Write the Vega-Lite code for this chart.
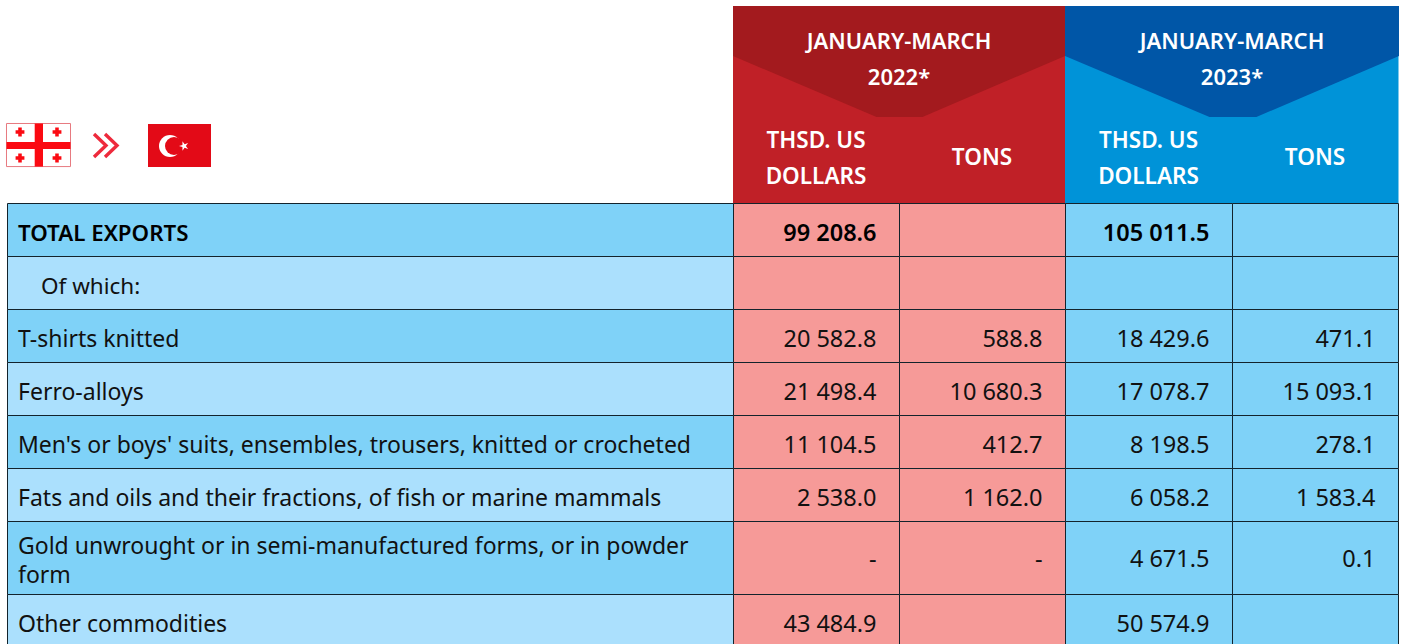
{"$schema":"https://vega.github.io/schema/vega-lite/v6.json","autosize":{"type":"fit","contains":"padding"},"width":1402,"height":644,"padding":0,"background":"white","config":{"view":{"stroke":null},"axis":{"disable":true},"legend":{"disable":true},"text":{"font":"Noto Sans"}},
"datasets":{
"cells":[
{"r":0,"r2":1,"c":0,"c2":1,"tone":"dark"},{"r":0,"r2":1,"c":1,"c2":2,"tone":"y22"},{"r":0,"r2":1,"c":2,"c2":3,"tone":"y22"},{"r":0,"r2":1,"c":3,"c2":4,"tone":"dark"},{"r":0,"r2":1,"c":4,"c2":5,"tone":"dark"},
{"r":1,"r2":2,"c":0,"c2":1,"tone":"light"},{"r":1,"r2":2,"c":1,"c2":2,"tone":"y22"},{"r":1,"r2":2,"c":2,"c2":3,"tone":"y22"},{"r":1,"r2":2,"c":3,"c2":4,"tone":"dark"},{"r":1,"r2":2,"c":4,"c2":5,"tone":"dark"},
{"r":2,"r2":3,"c":0,"c2":1,"tone":"dark"},{"r":2,"r2":3,"c":1,"c2":2,"tone":"y22"},{"r":2,"r2":3,"c":2,"c2":3,"tone":"y22"},{"r":2,"r2":3,"c":3,"c2":4,"tone":"dark"},{"r":2,"r2":3,"c":4,"c2":5,"tone":"dark"},
{"r":3,"r2":4,"c":0,"c2":1,"tone":"light"},{"r":3,"r2":4,"c":1,"c2":2,"tone":"y22"},{"r":3,"r2":4,"c":2,"c2":3,"tone":"y22"},{"r":3,"r2":4,"c":3,"c2":4,"tone":"dark"},{"r":3,"r2":4,"c":4,"c2":5,"tone":"dark"},
{"r":4,"r2":5,"c":0,"c2":1,"tone":"dark"},{"r":4,"r2":5,"c":1,"c2":2,"tone":"y22"},{"r":4,"r2":5,"c":2,"c2":3,"tone":"y22"},{"r":4,"r2":5,"c":3,"c2":4,"tone":"dark"},{"r":4,"r2":5,"c":4,"c2":5,"tone":"dark"},
{"r":5,"r2":6,"c":0,"c2":1,"tone":"light"},{"r":5,"r2":6,"c":1,"c2":2,"tone":"y22"},{"r":5,"r2":6,"c":2,"c2":3,"tone":"y22"},{"r":5,"r2":6,"c":3,"c2":4,"tone":"dark"},{"r":5,"r2":6,"c":4,"c2":5,"tone":"dark"},
{"r":6,"r2":7,"c":0,"c2":1,"tone":"dark"},{"r":6,"r2":7,"c":1,"c2":2,"tone":"y22"},{"r":6,"r2":7,"c":2,"c2":3,"tone":"y22"},{"r":6,"r2":7,"c":3,"c2":4,"tone":"dark"},{"r":6,"r2":7,"c":4,"c2":5,"tone":"dark"},
{"r":7,"r2":8,"c":0,"c2":1,"tone":"light"},{"r":7,"r2":8,"c":1,"c2":2,"tone":"y22"},{"r":7,"r2":8,"c":2,"c2":3,"tone":"y22"},{"r":7,"r2":8,"c":3,"c2":4,"tone":"dark"},{"r":7,"r2":8,"c":4,"c2":5,"tone":"dark"}],
"labels":[{"mid":0.5,"c":0,"t":"TOTAL EXPORTS","kind":"bold"},{"mid":1.5,"c":0,"t":"Of which:","kind":"indent"},{"mid":2.5,"c":0,"t":"T-shirts knitted","kind":"plain"},{"mid":3.5,"c":0,"t":"Ferro-alloys","kind":"plain"},{"mid":4.5,"c":0,"t":"Men's or boys' suits, ensembles, trousers, knitted or crocheted","kind":"plain"},{"mid":5.5,"c":0,"t":"Fats and oils and their fractions, of fish or marine mammals","kind":"plain"},{"mid":6.5,"c":0,"t":"Gold unwrought or in semi-manufactured forms, or in powder\nform","kind":"two"},{"mid":7.5,"c":0,"t":"Other commodities","kind":"plain"}],
"figures":[
{"mid":0.5,"c":2,"v":"99 208.6","kind":"bold"},{"mid":0.5,"c":4,"v":"105 011.5","kind":"bold"},
{"mid":2.5,"c":2,"v":"20 582.8","kind":"plain"},{"mid":2.5,"c":3,"v":"588.8","kind":"plain"},{"mid":2.5,"c":4,"v":"18 429.6","kind":"plain"},{"mid":2.5,"c":5,"v":"471.1","kind":"plain"},
{"mid":3.5,"c":2,"v":"21 498.4","kind":"plain"},{"mid":3.5,"c":3,"v":"10 680.3","kind":"plain"},{"mid":3.5,"c":4,"v":"17 078.7","kind":"plain"},{"mid":3.5,"c":5,"v":"15 093.1","kind":"plain"},
{"mid":4.5,"c":2,"v":"11 104.5","kind":"plain"},{"mid":4.5,"c":3,"v":"412.7","kind":"plain"},{"mid":4.5,"c":4,"v":"8 198.5","kind":"plain"},{"mid":4.5,"c":5,"v":"278.1","kind":"plain"},
{"mid":5.5,"c":2,"v":"2 538.0","kind":"plain"},{"mid":5.5,"c":3,"v":"1 162.0","kind":"plain"},{"mid":5.5,"c":4,"v":"6 058.2","kind":"plain"},{"mid":5.5,"c":5,"v":"1 583.4","kind":"plain"},
{"mid":6.47,"c":2,"v":"-","kind":"plain"},{"mid":6.47,"c":3,"v":"-","kind":"plain"},{"mid":6.47,"c":4,"v":"4 671.5","kind":"plain"},{"mid":6.47,"c":5,"v":"0.1","kind":"plain"},
{"mid":7.5,"c":2,"v":"43 484.9","kind":"plain"},{"mid":7.5,"c":4,"v":"50 574.9","kind":"plain"}],
"head":[{"c":1,"c2":3,"tone":"r"},{"c":3,"c2":5,"tone":"b"}],
"chev":[{"s":"rd","x":1,"y":-2,"top":-3},{"s":"rd","x":1.8645,"y":-1,"top":-3},{"s":"rd","x":2.1416,"y":-1,"top":-3},{"s":"rd","x":3,"y":-2,"top":-3},
{"s":"bd","x":3,"y":-2,"top":-3},{"s":"bd","x":3.8653,"y":-1,"top":-3},{"s":"bd","x":4.1467,"y":-1,"top":-3},{"s":"bd","x":5.006,"y":-2,"top":-3}],
"periods":[{"x":2,"y":-2.28,"t":"JANUARY-MARCH\n2022*"},{"x":4,"y":-2.28,"t":"JANUARY-MARCH\n2023*"}],
"units":[{"x":1.5,"y":-0.727,"t":"THSD. US\nDOLLARS"},{"x":2.5,"y":-0.53,"t":"TONS"},{"x":3.5,"y":-0.727,"t":"THSD. US\nDOLLARS"},{"x":4.5,"y":-0.53,"t":"TONS"}],
"arrows":[{"k":"a","x":0.11915,"y":-0.80347},{"k":"a","x":0.13567,"y":-0.67052},{"k":"a","x":0.11915,"y":-0.53757},{"k":"b","x":0.13430,"y":-0.80347},{"k":"b","x":0.15083,"y":-0.67052},{"k":"b","x":0.13430,"y":-0.53757}],
"bolnisi":[{"x":0.01722,"y":-0.82659},{"x":0.06818,"y":-0.82659},{"x":0.01722,"y":-0.52601},{"x":0.06818,"y":-0.52601}]
},
"layer":[
{"data":{"name":"head"},"mark":{"type":"rect","x2Offset":0.5},"encoding":{"x":{"field":"c","type":"quantitative","scale":{"domain":[0,1,2,3,4,5],"range":[7,733,899,1065,1232,1398],"nice":false,"zero":false}},"x2":{"field":"c2"},"y":{"datum":-3,"type":"quantitative","scale":{"domain":[-3,-2,-1,0,1,2,3,4,5,6,7,8],"range":[6,56,117,203.5,256.5,309.5,362.5,415.5,468.5,521.5,594.5,647.5],"nice":false,"zero":false}},"y2":{"datum":0},"fill":{"field":"tone","type":"nominal","scale":{"domain":["r","b","rd","bd","dark","light","y22"],"range":["#c02027","#0093d8","#a31a1e","#0056a7","#7fd2f8","#abe0fd","#f69a98"]}}}},
{"data":{"name":"chev"},"mark":{"type":"area","orient":"vertical","interpolate":"linear"},"encoding":{"x":{"field":"x","type":"quantitative"},"y":{"field":"y","type":"quantitative"},"y2":{"field":"top"},"detail":{"field":"s"},"fill":{"field":"s","type":"nominal"}}},
{"data":{"name":"cells"},"mark":{"type":"rect","stroke":"#13232c","strokeWidth":1,"clip":true,"xOffset":0.5,"x2Offset":0.5},"encoding":{"x":{"field":"c","type":"quantitative"},"x2":{"field":"c2"},"y":{"field":"r","type":"quantitative"},"y2":{"field":"r2"},"fill":{"field":"tone","type":"nominal"}}},
{"data":{"name":"labels"},"transform":[{"filter":"datum.kind==='plain'"}],"mark":{"type":"text","align":"left","baseline":"middle","dx":11,"dy":4,"fontSize":23,"color":"#111"},"encoding":{"x":{"field":"c","type":"quantitative"},"y":{"field":"mid","type":"quantitative"},"text":{"field":"t"}}},
{"data":{"name":"labels"},"transform":[{"filter":"datum.kind==='two'"}],"mark":{"type":"text","align":"left","baseline":"middle","dx":11,"dy":-11,"fontSize":23,"lineHeight":29,"lineBreak":"\n","color":"#111"},"encoding":{"x":{"field":"c","type":"quantitative"},"y":{"field":"mid","type":"quantitative"},"text":{"field":"t"}}},
{"data":{"name":"labels"},"transform":[{"filter":"datum.kind==='indent'"}],"mark":{"type":"text","align":"left","baseline":"middle","dx":34,"dy":4,"fontSize":22.5,"color":"#111"},"encoding":{"x":{"field":"c","type":"quantitative"},"y":{"field":"mid","type":"quantitative"},"text":{"field":"t"}}},
{"data":{"name":"labels"},"transform":[{"filter":"datum.kind==='bold'"}],"mark":{"type":"text","align":"left","baseline":"middle","dx":11,"dy":4,"fontSize":22.3,"fontWeight":600,"color":"#000"},"encoding":{"x":{"field":"c","type":"quantitative"},"y":{"field":"mid","type":"quantitative"},"text":{"field":"t"}}},
{"data":{"name":"figures"},"transform":[{"filter":"datum.kind==='plain'"}],"mark":{"type":"text","align":"right","baseline":"middle","dx":-22.5,"dy":4,"fontSize":23.5,"color":"#111"},"encoding":{"x":{"field":"c","type":"quantitative"},"y":{"field":"mid","type":"quantitative"},"text":{"field":"v"}}},
{"data":{"name":"figures"},"transform":[{"filter":"datum.kind==='bold'"}],"mark":{"type":"text","align":"right","baseline":"middle","dx":-22.5,"dy":4,"fontSize":23.5,"fontWeight":600,"color":"#000"},"encoding":{"x":{"field":"c","type":"quantitative"},"y":{"field":"mid","type":"quantitative"},"text":{"field":"v"}}},
{"data":{"name":"periods"},"mark":{"type":"text","align":"center","baseline":"middle","fontSize":22,"fontWeight":600,"lineHeight":36,"lineBreak":"\n","color":"white"},"encoding":{"x":{"field":"x","type":"quantitative"},"y":{"field":"y","type":"quantitative"},"text":{"field":"t"}}},
{"data":{"name":"units"},"mark":{"type":"text","align":"center","baseline":"middle","fontSize":22.5,"fontWeight":600,"lineHeight":36,"lineBreak":"\n","color":"white"},"encoding":{"x":{"field":"x","type":"quantitative"},"y":{"field":"y","type":"quantitative"},"text":{"field":"t"}}},
{"data":{"values":[{"a":-0.00069,"b":0.08747,"t":-0.92500,"u":-0.42700}]},"mark":{"type":"rect","fill":"white","stroke":"#e77a80","strokeWidth":1},"encoding":{"x":{"field":"a","type":"quantitative"},"x2":{"field":"b"},"y":{"field":"t","type":"quantitative"},"y2":{"field":"u"}}},
{"data":{"values":[{"a":0.03816,"b":0.04959,"t":-0.92500,"u":-0.42700},{"a":-0.00069,"b":0.08747,"t":-0.71098,"u":-0.63006}]},"mark":{"type":"rect","fill":"#fb0a12"},"encoding":{"x":{"field":"a","type":"quantitative"},"x2":{"field":"b"},"y":{"field":"t","type":"quantitative"},"y2":{"field":"u"}}},
{"data":{"name":"bolnisi"},"mark":{"type":"point","shape":"cross","filled":true,"size":78,"opacity":1,"color":"#fb0a12","xOffset":0.5},"encoding":{"x":{"field":"x","type":"quantitative"},"y":{"field":"y","type":"quantitative"}}},
{"data":{"values":[{"a":0.19422,"b":0.28099,"t":-0.91908,"u":-0.42197}]},"mark":{"type":"rect","fill":"#e30a17"},"encoding":{"x":{"field":"a","type":"quantitative"},"x2":{"field":"b"},"y":{"field":"t","type":"quantitative"},"y2":{"field":"u"}}},
{"data":{"values":[{"x":0.22452,"y":-0.66474}]},"mark":{"type":"point","shape":"circle","filled":true,"size":484,"opacity":1,"color":"white"},"encoding":{"x":{"field":"x","type":"quantitative"},"y":{"field":"y","type":"quantitative"}}},
{"data":{"values":[{"x":0.23003,"y":-0.66474}]},"mark":{"type":"point","shape":"circle","filled":true,"size":324,"opacity":1,"color":"#e30a17"},"encoding":{"x":{"field":"x","type":"quantitative"},"y":{"field":"y","type":"quantitative"}}},
{"data":{"values":[{"x":0.2438,"y":-0.66474}]},"mark":{"type":"point","shape":"M0,-1 L0.22,-0.31 L0.95,-0.31 L0.36,0.12 L0.59,0.81 L0,0.38 L-0.59,0.81 L-0.36,0.12 L-0.95,-0.31 L-0.22,-0.31Z","filled":true,"size":100,"angle":270,"opacity":1,"color":"white"},"encoding":{"x":{"field":"x","type":"quantitative"},"y":{"field":"y","type":"quantitative"}}},
{"data":{"name":"arrows"},"mark":{"type":"line","strokeWidth":3.4,"color":"#ee2a3c","interpolate":"linear","xOffset":0.5},"encoding":{"x":{"field":"x","type":"quantitative","sort":null},"y":{"field":"y","type":"quantitative"},"detail":{"field":"k"},"order":{"field":"y"}}}
]}
